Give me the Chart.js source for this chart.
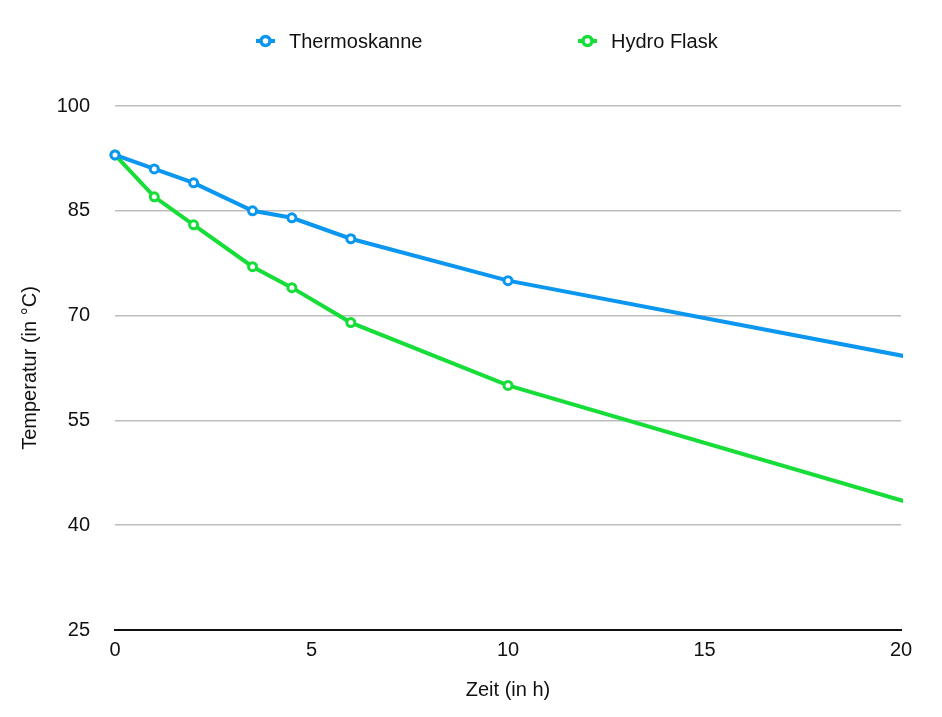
<!DOCTYPE html>
<html>
<head>
    <meta charset="utf-8">
    <script src="https://cdn.jsdelivr.net/npm/chart.js"></script>
    <style>
        body { background: #fff; margin: 0; }
        .chart-container { width: 942px; height: 717px; position: relative; }
    </style>
</head>
<body>
    <div class="chart-container">
        <canvas id="myChart"></canvas>
    </div>
    <script>
        // --- DATA ---
        const hours = [0, 1, 2, 3.5, 4.5, 6, 10, 24];
        const thermoskanne = [93, 91, 89, 85, 84, 81, 75, 60];
        const hydroFlask = [93, 87, 83, 77, 74, 69, 60, 37];
        const seriesLabels = ['Thermoskanne', 'Hydro Flask'];
        const yTicks = [25, 40, 55, 70, 85, 100];
        const xTicks = [0, 5, 10, 15, 20];

        const BLUE = 'rgb(11,150,240)';
        const GREEN = 'rgb(22,221,56)';
        const FONT = '"Liberation Sans", Arial, Helvetica, sans-serif';

        const toPoints = (ys) => hours.map((x, i) => ({ x, y: ys[i] }));

        // legend drawn on the canvas, line + ring marker like the original
        const legendPlugin = {
            id: 'ringLegend',
            afterDraw(chart) {
                const ctx = chart.ctx;
                const starts = [256, 578];
                const y = 41;
                ctx.save();
                chart.data.datasets.forEach((ds, i) => {
                    const x0 = starts[i];
                    ctx.strokeStyle = ds.borderColor;
                    ctx.lineWidth = 4;
                    ctx.beginPath();
                    ctx.moveTo(x0, y);
                    ctx.lineTo(x0 + 19, y);
                    ctx.stroke();
                    ctx.beginPath();
                    ctx.arc(x0 + 9.5, y, 4.5, 0, Math.PI * 2);
                    ctx.fillStyle = '#fff';
                    ctx.fill();
                    ctx.lineWidth = 3.5;
                    ctx.stroke();
                    ctx.fillStyle = '#111';
                    ctx.font = '20px ' + FONT;
                    ctx.textBaseline = 'middle';
                    ctx.textAlign = 'left';
                    ctx.fillText(ds.label, x0 + 33, y + 1);
                });
                ctx.restore();
            }
        };

        const ctx = document.getElementById('myChart').getContext('2d');
        const colors = [BLUE, GREEN];
        const chart = new Chart(ctx, {
            type: 'line',
            data: {
                datasets: [thermoskanne, hydroFlask].map((ys, i) => ({
                    label: seriesLabels[i],
                    data: toPoints(ys),
                    borderColor: colors[i],
                    backgroundColor: '#fff',
                    pointBackgroundColor: '#fff',
                    pointBorderColor: colors[i],
                    borderWidth: 4,
                    pointRadius: 4,
                    pointBorderWidth: 3,
                    tension: 0,
                    clip: { left: 10, top: 10, bottom: 10, right: 2 }
                }))
            },
            options: {
                responsive: true,
                maintainAspectRatio: false,
                animation: false,
                layout: { padding: { top: 106, right: 41, left: 0, bottom: 0 } },
                plugins: { legend: { display: false }, tooltip: { enabled: false } },
                scales: {
                    x: {
                        type: 'linear',
                        min: 0,
                        max: 20,
                        afterBuildTicks: (s) => { s.ticks = xTicks.map(v => ({ value: v })); },
                        afterFit: (s) => { s.height = 87; },
                        grid: { display: false, drawTicks: false },
                        border: { display: true, color: '#111', width: 2 },
                        ticks: { color: '#111', padding: 8, maxRotation: 0, font: { size: 20, family: FONT } },
                        title: {
                            display: true,
                            text: 'Zeit (in h)',
                            color: '#111',
                            font: { size: 20, family: FONT },
                            padding: { top: 0, bottom: 15 }
                        }
                    },
                    y: {
                        min: 25,
                        max: 100,
                        afterBuildTicks: (s) => { s.ticks = yTicks.map(v => ({ value: v })); },
                        afterFit: (s) => { s.width = 115; },
                        grid: { color: '#bdbdbd', lineWidth: 1.5, drawTicks: false },
                        border: { display: false },
                        ticks: { color: '#111', padding: 25, font: { size: 20, family: FONT } },
                        title: {
                            display: true,
                            text: 'Temperatur (in °C)',
                            color: '#111',
                            font: { size: 20, family: FONT },
                            padding: { top: 18, bottom: 0 }
                        }
                    }
                }
            },
            plugins: [legendPlugin]
        });
    </script>
</body>
</html>
